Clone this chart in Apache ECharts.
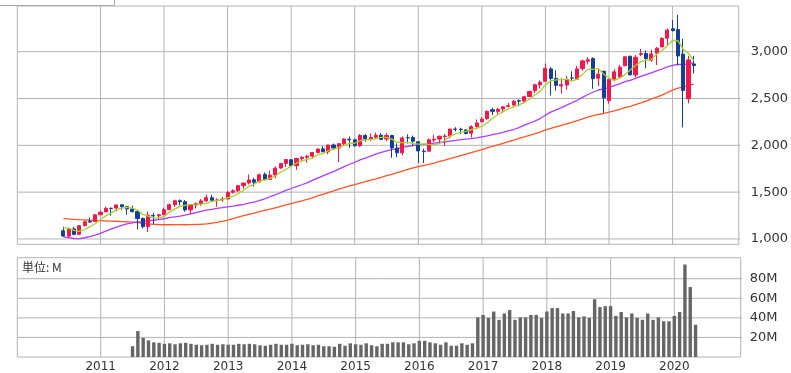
<!DOCTYPE html>
<html><head><meta charset="utf-8">
<script src="https://cdn.jsdelivr.net/npm/echarts@6/dist/echarts.min.js"></script>
<style>html,body{margin:0;padding:0;background:#fff}#c{width:791px;height:373px}</style>
</head><body><div id="c"></div>
<script>
const months = [
'2010/06','2010/07','2010/08','2010/09','2010/10','2010/11','2010/12',
'2011/01','2011/02','2011/03','2011/04','2011/05','2011/06','2011/07','2011/08','2011/09','2011/10','2011/11','2011/12',
'2012/01','2012/02','2012/03','2012/04','2012/05','2012/06','2012/07','2012/08','2012/09','2012/10','2012/11','2012/12',
'2013/01','2013/02','2013/03','2013/04','2013/05','2013/06','2013/07','2013/08','2013/09','2013/10','2013/11','2013/12',
'2014/01','2014/02','2014/03','2014/04','2014/05','2014/06','2014/07','2014/08','2014/09','2014/10','2014/11','2014/12',
'2015/01','2015/02','2015/03','2015/04','2015/05','2015/06','2015/07','2015/08','2015/09','2015/10','2015/11','2015/12',
'2016/01','2016/02','2016/03','2016/04','2016/05','2016/06','2016/07','2016/08','2016/09','2016/10','2016/11','2016/12',
'2017/01','2017/02','2017/03','2017/04','2017/05','2017/06','2017/07','2017/08','2017/09','2017/10','2017/11','2017/12',
'2018/01','2018/02','2018/03','2018/04','2018/05','2018/06','2018/07','2018/08','2018/09','2018/10','2018/11','2018/12',
'2019/01','2019/02','2019/03','2019/04','2019/05','2019/06','2019/07','2019/08','2019/09','2019/10','2019/11','2019/12',
'2020/01','2020/02','2020/03','2020/04','2020/05'];

const open = [
1087.3,1031.1,1107.5,1049.7,1143.5,1185.7,1186.6,
1257.6,1289.1,1328.6,1329.5,1365.2,1345.2,1320.6,1292.6,1219.1,1131.2,1251.0,1246.9,
1258.9,1312.5,1365.9,1408.5,1397.9,1309.9,1362.3,1379.3,1406.5,1440.9,1412.2,1416.2,
1426.2,1498.1,1514.7,1569.2,1597.6,1631.7,1609.8,1689.4,1635.9,1682.4,1758.7,1806.6,
1845.9,1782.7,1857.7,1873.9,1884.4,1923.9,1962.3,1929.8,2004.1,1971.4,2018.2,2065.8,
2058.9,1996.7,2105.2,2067.6,2087.4,2108.6,2067.0,2104.5,1970.1,1919.7,2080.8,2082.9,
2038.2,1936.9,1937.1,2056.6,2067.2,2093.9,2099.3,2173.2,2171.3,2164.3,2128.7,2200.2,
2251.6,2285.6,2380.1,2362.3,2388.5,2415.6,2431.4,2477.1,2474.4,2521.2,2583.2,2645.1,
2683.7,2816.5,2715.2,2633.5,2643.0,2718.7,2705.0,2821.2,2897.0,2926.3,2717.6,2790.5,
2477.0,2702.3,2730.3,2848.6,2952.3,2751.5,2971.4,2980.3,2909.0,2983.7,3050.7,3143.9,
3244.7,3235.7,2974.3,2498.1,2869.1];
const high = [
1131.2,1120.9,1129.2,1148.9,1196.1,1227.1,1262.6,
1302.7,1344.1,1332.3,1364.6,1370.6,1345.2,1356.5,1307.4,1229.3,1292.7,1277.6,1269.4,
1333.5,1378.0,1419.2,1422.4,1415.3,1363.5,1391.7,1426.7,1474.5,1470.9,1434.3,1448.0,
1509.9,1530.9,1570.3,1597.6,1687.2,1654.2,1698.8,1709.7,1729.9,1775.2,1813.6,1849.4,
1850.8,1867.9,1883.9,1897.3,1924.0,1968.2,1991.4,2005.0,2019.3,2018.2,2075.8,2093.6,
2072.4,2119.6,2117.5,2125.9,2134.7,2129.9,2132.8,2112.7,2021.0,2094.3,2116.5,2104.3,
2038.2,1963.0,2072.2,2111.1,2103.5,2120.6,2177.1,2193.8,2187.9,2169.6,2214.1,2277.5,
2301.0,2371.5,2401.0,2398.2,2418.7,2453.8,2484.0,2490.9,2519.4,2583.0,2657.7,2695.0,
2872.9,2836.0,2801.9,2717.5,2742.2,2791.5,2848.0,2916.5,2940.9,2939.9,2815.1,2800.2,
2709.0,2813.5,2860.3,2949.5,2954.1,2964.2,3028.0,3013.6,3022.0,3050.1,3154.3,3247.9,
3337.8,3393.5,3136.7,2954.9,2955.0];
const low = [
1028.3,1010.9,1039.7,1041.0,1131.9,1173.0,1186.6,
1257.6,1289.1,1249.1,1294.7,1311.8,1258.1,1282.9,1101.5,1114.2,1074.8,1158.7,1202.4,
1258.9,1312.5,1340.0,1357.4,1291.0,1266.7,1325.4,1354.6,1396.6,1403.3,1343.4,1398.1,
1426.2,1485.0,1501.5,1536.0,1581.3,1560.3,1604.6,1627.5,1633.4,1646.5,1746.2,1767.9,
1770.5,1737.9,1834.4,1814.4,1859.8,1915.9,1930.7,1904.8,1964.0,1820.7,2001.0,1972.6,
1988.1,1980.9,2039.7,2048.4,2067.9,2056.3,2044.0,1867.0,1871.9,1893.7,2019.4,1993.3,
1812.3,1810.1,1937.1,2033.8,2025.9,1991.7,2074.0,2147.6,2119.1,2114.7,2083.8,2187.4,
2245.1,2271.7,2322.3,2329.0,2344.5,2405.7,2407.7,2417.4,2446.6,2520.4,2557.4,2605.5,
2682.4,2532.7,2585.9,2553.8,2594.6,2692.0,2699.0,2796.3,2864.1,2603.5,2631.1,2346.6,
2444.0,2681.8,2722.3,2848.6,2750.5,2728.8,2952.2,2822.1,2891.9,2855.9,3050.7,3070.3,
3214.6,2855.8,2191.9,2447.5,2766.6];
const close = [
1030.7,1101.6,1049.3,1141.2,1183.3,1180.6,1257.6,
1286.1,1327.2,1325.8,1363.6,1345.2,1320.6,1292.3,1218.9,1131.4,1253.3,1247.0,1257.6,
1312.4,1365.7,1408.5,1397.9,1310.3,1362.2,1379.3,1406.6,1440.7,1412.2,1416.2,1426.2,
1498.1,1514.7,1569.2,1597.6,1630.7,1606.3,1685.7,1633.0,1681.6,1756.5,1805.8,1848.4,
1782.6,1859.5,1872.3,1883.9,1923.6,1960.2,1930.7,2003.4,1972.3,2018.1,2067.6,2058.9,
1995.0,2104.5,2067.9,2085.5,2107.4,2063.1,2104.0,1972.2,1920.0,2079.4,2080.4,2043.9,
1940.2,1932.2,2059.7,2065.3,2096.9,2098.9,2173.6,2171.0,2168.3,2126.2,2198.8,2238.8,
2278.9,2363.6,2362.7,2384.2,2411.8,2423.4,2470.3,2471.7,2519.4,2575.3,2647.6,2673.6,
2823.8,2713.8,2640.9,2648.1,2705.3,2718.4,2816.3,2901.5,2914.0,2711.7,2760.2,2506.9,
2704.1,2784.5,2834.4,2945.8,2752.1,2941.8,2980.4,2926.5,2976.7,3037.6,3141.0,3230.8,
3225.5,2954.2,2584.6,2912.4,2852.0];

const maShort = [
1116,1116,1092,1082,1101,1131,1162,
1210,1247,1276,1312,1330,1337,1330,1308,1262,1243,1229,1222,
1240,1287,1318,1348,1359,1369,1372,1371,1380,1400,1411,1420,
1439,1454,1485,1521,1562,1584,1618,1631,1648,1673,1713,1745,
1775,1811,1834,1849,1864,1900,1914,1940,1958,1977,1998,2024,
2022,2049,2059,2062,2072,2086,2086,2066,2033,2028,2031,2019,
2013,2015,2011,2008,2019,2051,2099,2121,2142,2148,2168,2181,
2202,2241,2289,2326,2360,2389,2411,2432,2459,2492,2537,2578,
2648,2687,2700,2700,2706,2685,2706,2758,2811,2812,2821,2759,
2719,2694,2718,2755,2804,2852,2891,2909,2916,2973,3012,3063,
3122,3118,3027,2982,2906];
const maMid = [
1022,1015,1005,1004,1013,1025,1040,
1059,1083,1105,1126,1144,1160,1173,1181,1184,1194,1200,1206,
1216,1227,1237,1245,1255,1268,1280,1295,1307,1317,1327,1334,
1343,1350,1360,1370,1382,1394,1410,1428,1451,1472,1495,1519,
1539,1560,1579,1599,1625,1650,1673,1698,1720,1745,1772,1798,
1819,1844,1864,1885,1905,1924,1941,1955,1965,1979,1990,1998,
2005,2008,2016,2023,2030,2036,2046,2053,2061,2066,2071,2079,
2091,2102,2114,2126,2139,2154,2169,2190,2215,2236,2259,2286,
2322,2355,2379,2403,2429,2455,2481,2512,2543,2567,2591,2602,
2620,2637,2657,2680,2694,2716,2737,2756,2775,2794,2815,2838,
2855,2865,2863,2874,2880];
const maLong = [
1218,1215,1210,1206,1203,1200,1197,
1195,1193,1191,1189,1186,1183,1180,1175,1167,1161,1157,1154,
1152,1152,1153,1153,1152,1153,1155,1157,1161,1168,1178,1189,
1201,1217,1233,1248,1263,1277,1292,1305,1318,1333,1347,1363,
1377,1393,1408,1422,1440,1459,1476,1496,1513,1531,1549,1566,
1581,1597,1612,1628,1643,1659,1676,1691,1708,1725,1742,1759,
1772,1784,1797,1811,1828,1843,1859,1875,1891,1905,1922,1939,
1955,1973,1989,2006,2022,2039,2055,2073,2090,2107,2125,2142,
2164,2181,2197,2213,2230,2245,2264,2283,2302,2317,2331,2340,
2355,2369,2385,2403,2417,2435,2453,2473,2495,2515,2537,2562,
2589,2610,2621,2639,2654];

const volume = [
null,null,null,null,null,null,null,
null,null,null,null,null,null,11,26.5,19.5,17,15,14.5,
13.5,14,13,14,14.5,13.5,12.5,12,12.5,13.5,12.5,13,
12.5,12.5,13.5,13,13.5,13,12,11.5,12.5,13.5,12.5,12.5,
13.5,12,12.5,13,12,12.5,11,11,10.5,13.5,11.5,14,
13,12.5,14,12,11,13.5,13.5,15,15,15,13,14,
16.5,16.5,15,14,12.5,15,11.5,11.5,14,12.5,14,40.5,
43,40,46.5,38,44.5,48,38,40.5,40.5,43,43,40,
46.5,50,50,44.5,44.5,47,40.5,41.5,40,59,51,52,
52,42,46,40.5,44.5,40,38,44.5,38,40.5,36.5,36.5,
42,46,94.5,71.5,33];

const yearTicks = ['2011','2012','2013','2014','2015','2016','2017','2018','2019','2020'];
const priceTicks = [1000,1500,2000,2500,3000];
const volumeTicks = [20,40,60,80];

const monthIndex = s => { const p = s.split('/'); return (Number(p[0]) - 2000) * 12 + Number(p[1]) - 1; };
const xs = months.map(monthIndex);
const yearX = yearTicks.map(y => monthIndex(y + '/01'));

const RED = '#f5164a', BLUE = '#153f97', GRID = '#b3b3b3', TXT = '#333';
const FONT = 'DejaVu Sans';

const candleData = xs.map((x, i) => [x, open[i], close[i], low[i], high[i]]);
const line = arr => xs.map((x, i) => [x, arr[i]]);
const volData = xs.map((x, i) => [x, volume[i]]).filter(d => d[1] != null);

const X0 = 116.3, X1 = 252.5, TICK = 1.13;
const P0 = 943, P1 = 3488, V0 = 0, V1 = 101.5;
const mainBox = {left: 17.3, top: 6, width: 723.4, height: 238.3};
const volBox = {left: 17.3, top: 257.7, width: 723.4, height: 99.8};
const hidden = {axisLine: {show: false}, axisTick: {show: false}, axisLabel: {show: false}, splitLine: {show: false}};

// grid lines drawn as plain line series through the axes' scales
const gridLineSeries = (axisIdx, yLo, yHi, yVals) => {
  const base = {type: 'line', xAxisIndex: axisIdx, yAxisIndex: axisIdx, symbol: 'none', showSymbol: false,
    silent: true, z: 1, clip: false, lineStyle: {color: GRID, width: 1}};
  return yearX.map(x => Object.assign({}, base, {data: [[x, yLo], [x, yHi]]}))
    .concat(yVals.map(v => Object.assign({}, base, {data: [[X0, v], [X1 + TICK, v]]})));
};

const chart = echarts.init(document.getElementById('c'), null, {renderer: 'canvas'});
chart.setOption({
  animation: false,
  backgroundColor: '#fff',
  grid: [
    Object.assign({show: true, borderColor: GRID, borderWidth: 1}, mainBox),
    Object.assign({show: true, borderColor: GRID, borderWidth: 1}, volBox)
  ],
  xAxis: [
    Object.assign({type: 'value', gridIndex: 0, min: X0, max: X1}, hidden),
    Object.assign({type: 'value', gridIndex: 1, min: X0, max: X1}, hidden, {
      axisLabel: {show: true, customValues: yearX, formatter: v => String(2000 + Math.round(v / 12)),
        fontSize: 12, fontFamily: FONT, color: TXT, margin: 4}})
  ],
  yAxis: [
    Object.assign({type: 'value', gridIndex: 0, position: 'right', min: P0, max: P1}, hidden, {
      axisLabel: {show: true, customValues: priceTicks, formatter: v => v.toLocaleString('en-US'),
        fontSize: 13, fontFamily: FONT, color: TXT, margin: 12}}),
    Object.assign({type: 'value', gridIndex: 1, position: 'right', min: V0, max: V1}, hidden, {
      axisLabel: {show: true, customValues: volumeTicks, formatter: v => v + 'M',
        fontSize: 13, fontFamily: FONT, color: TXT, margin: 9}})
  ],
  graphic: [
    {type: 'rect', shape: {x: -2, y: -2, width: 116.5, height: 7.5}, style: {fill: '#fff', stroke: '#a8a8a8', lineWidth: 1}, z: 100},
    {type: 'text', left: 22, top: 261, style: {text: '単位: M', fontSize: 12, fontFamily: 'Noto Sans CJK JP', fill: TXT}, z: 100}
  ],
  series: gridLineSeries(0, P0, P1, priceTicks).concat(gridLineSeries(1, V0, V1, volumeTicks)).concat([
    {type: 'bar', xAxisIndex: 1, yAxisIndex: 1, data: volData, barWidth: 3.4, z: 3, itemStyle: {color: '#666'}, silent: true},
    {type: 'line', xAxisIndex: 0, yAxisIndex: 0, data: line(maLong), showSymbol: false, symbol: 'none', z: 3,
      lineStyle: {color: '#ff5526', width: 1.3}},
    {type: 'line', xAxisIndex: 0, yAxisIndex: 0, data: line(maMid), showSymbol: false, symbol: 'none', z: 3,
      lineStyle: {color: '#ae3cff', width: 1.3}},
    {type: 'candlestick', xAxisIndex: 0, yAxisIndex: 0, data: candleData, barWidth: 3.6, z: 4,
      itemStyle: {color: RED, color0: BLUE, borderColor: RED, borderColor0: BLUE, borderWidth: 1}},
    {type: 'line', xAxisIndex: 0, yAxisIndex: 0, data: line(maShort), showSymbol: false, symbol: 'none', z: 5,
      lineStyle: {color: '#a6d02c', width: 1.3}}
  ])
});
</script></body></html>
